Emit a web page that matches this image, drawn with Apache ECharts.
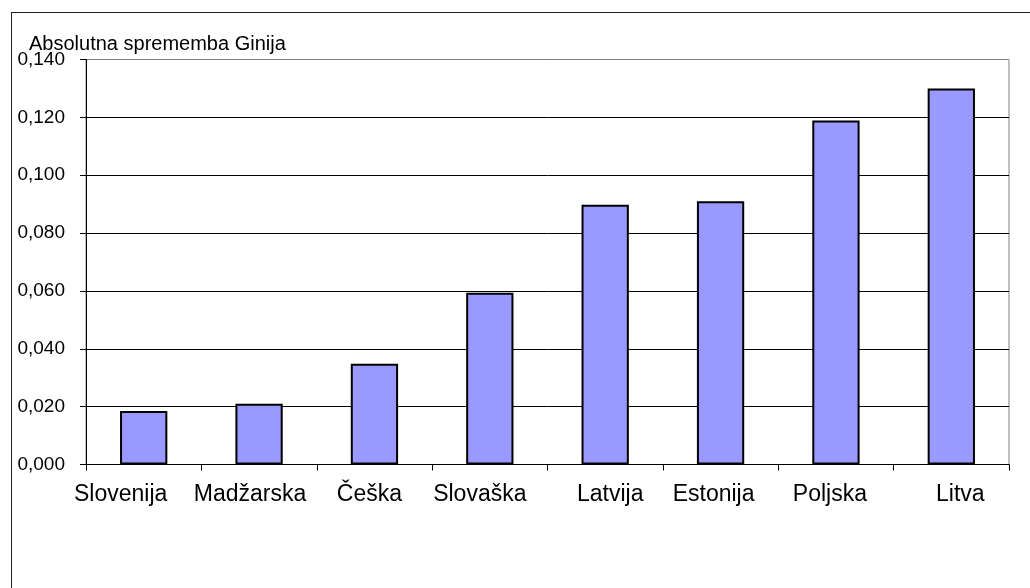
<!DOCTYPE html>
<html>
<head>
<meta charset="utf-8">
<script src="https://cdn.jsdelivr.net/npm/echarts@6/dist/echarts.min.js"></script>
<style>
  html, body { margin: 0; padding: 0; background: #fff; }
  #chart { width: 1030px; height: 588px; }
  .frame {
    position: absolute;
    left: 11px;
    top: 12px;
    width: 1030px;
    height: 600px;
    border-left: 1px solid #222;
    border-top: 1px solid #222;
    pointer-events: none;
  }
</style>
</head>
<body>
<div id="chart"></div>
<div class="frame"></div>
<script>
// države in absolutna sprememba Ginijevega koeficienta
const countries = ['Slovenija', 'Madžarska', 'Češka', 'Slovaška', 'Latvija', 'Estonija', 'Poljska', 'Litva'];
const giniChange = [0.0185, 0.021, 0.0348, 0.0594, 0.0898, 0.0910, 0.1189, 0.1300];
const yTitle = 'Absolutna sprememba Ginija';

const font = 'Liberation Sans, Arial, sans-serif';

// Excel postavi oznake kategorij malo zamaknjeno, to posnemamo s paddingom
const labelShift = [-23, -9, -5, -10, 5, -7, -6, 9];
const rich = {};
labelShift.forEach((s, i) => {
  rich['c' + i] = {
    fontFamily: font,
    fontSize: 23,
    color: '#000',
    padding: s < 0 ? [0, -2 * s, 0, 0] : [0, 0, 0, 2 * s]
  };
});

const chart = echarts.init(document.getElementById('chart'));
chart.setOption({
  animation: false,
  title: {
    text: yTitle,
    left: 24,
    top: 29,
    textStyle: { fontFamily: font, fontSize: 20, fontWeight: 'normal', color: '#000' }
  },
  grid: {
    left: 86,
    top: 59.5,
    right: 21,
    bottom: 123.5,
    show: true,
    borderColor: '#808080',
    borderWidth: 1
  },
  xAxis: {
    type: 'category',
    data: countries,
    axisLine: { lineStyle: { color: '#000', width: 1 } },
    axisTick: { show: true, length: 6, lineStyle: { color: '#000' } },
    axisLabel: {
      color: '#000',
      fontFamily: font,
      fontSize: 23,
      margin: 19,
      interval: 0,
      formatter: (v, i) => '{c' + i + '|' + v + '}',
      rich: rich
    }
  },
  yAxis: {
    type: 'value',
    min: 0,
    max: 0.14,
    interval: 0.02,
    axisLine: { show: true, lineStyle: { color: '#000', width: 1 } },
    axisTick: { show: true, length: 6, lineStyle: { color: '#000' } },
    axisLabel: {
      color: '#000',
      fontFamily: font,
      fontSize: 19,
      margin: 21,
      formatter: v => v.toFixed(3).replace('.', ',')
    },
    splitLine: {
      show: true,
      lineStyle: { color: ['#000', '#000', '#000', '#000', '#000', '#000', '#000', '#808080'], width: 1 }
    }
  },
  series: [{
    type: 'bar',
    data: giniChange,
    barWidth: '41%',
    itemStyle: { color: '#9999FF', borderColor: '#000', borderWidth: 2 }
  }]
});
</script>
</body>
</html>
